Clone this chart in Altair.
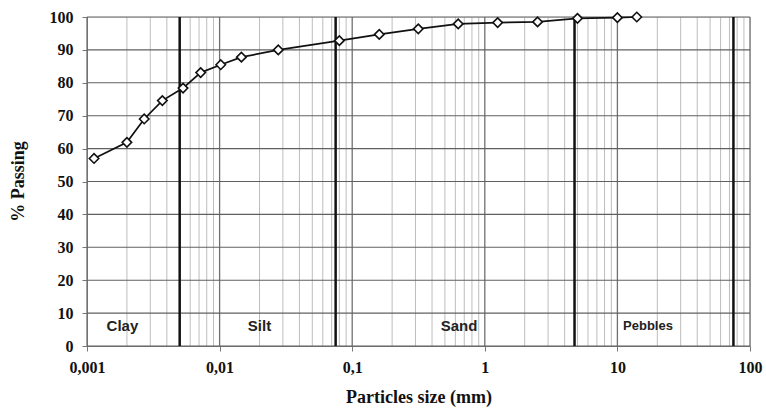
import altair as alt
import pandas as pd

# Measured grain-size curve
size_mm = [0.00113, 0.002, 0.0027, 0.0037, 0.0053, 0.0072, 0.0102, 0.0146, 0.0277,
           0.08, 0.16, 0.315, 0.63, 1.25, 2.5, 5, 10, 14]
passing = [57.0, 61.9, 69.0, 74.6, 78.4, 83.1, 85.5, 87.8, 90.0,
           92.8, 94.7, 96.4, 97.9, 98.3, 98.5, 99.6, 99.8, 100.0]

# Class limits (mm)
limits = [0.005, 0.075, 4.75, 75]

# Class labels
class_names = ["Clay", "Silt", "Sand", "Pebbles"]
class_x = [0.00185, 0.020, 0.64, 17.0]
class_y = [6, 6, 6, 6]
class_size = [15, 15, 15, 13]

# Grid values
decades = [0.001, 0.01, 0.1, 1, 10, 100]
minor = [m * d for d in [0.001, 0.01, 0.1, 1, 10] for m in range(2, 10)]
y_ticks = list(range(0, 101, 10))

curve = pd.DataFrame({"size": size_mm, "passing": passing})
lim_df = pd.DataFrame({"size": limits})
cls_df = pd.DataFrame({"name": class_names, "size": class_x, "y": class_y, "fs": class_size})
major_df = pd.DataFrame({"size": decades})
minor_df = pd.DataFrame({"size": minor})
hgrid_df = pd.DataFrame({"y": y_ticks})

xscale = alt.Scale(type="log", domain=[0.001, 100])
yscale = alt.Scale(domain=[0, 100])

SERIF = "Liberation Serif"
SANS = "Liberation Sans"

xaxis = alt.Axis(
    values=decades,
    labelExpr="replace(toString(datum.value), '.', ',')",
    grid=False, tickSize=5, tickColor="#777", domainColor="#777",
    labelFont=SERIF, labelFontWeight="bold", labelFontSize=16, labelColor="#111",
    labelPadding=8, labelFlush=False, labelOverlap=False,
    title="Particles size (mm)", titleFont=SERIF, titleFontWeight="bold",
    titleFontSize=18, titleColor="#111", titleY=56, titleBaseline="alphabetic",
)
yaxis = alt.Axis(
    values=y_ticks, grid=False, labelOverlap=False,
    tickSize=5, tickColor="#777", domainColor="#777",
    labelFont=SERIF, labelFontWeight="bold", labelFontSize=16, labelColor="#111",
    labelPadding=9,
    title="% Passing", titleFont=SERIF, titleFontWeight="bold", titleFontSize=18,
    titleColor="#111", titleAngle=-90, titleX=-69, titleY=164, titleAlign="center",
    titleBaseline="middle",
)

minor_rules = alt.Chart(minor_df).mark_rule(color="#bdbdbd", strokeWidth=1).encode(
    x=alt.X("size:Q", scale=xscale, axis=xaxis)
)
major_rules = alt.Chart(major_df).mark_rule(color="#707070", strokeWidth=1.3).encode(
    x=alt.X("size:Q", scale=xscale)
)
hgrid = alt.Chart(hgrid_df).mark_rule(color="#606060", strokeWidth=1.1).encode(
    y=alt.Y("y:Q", scale=yscale, axis=yaxis)
)
limit_rules = alt.Chart(lim_df).mark_rule(color="#111", strokeWidth=2.5).encode(
    x=alt.X("size:Q", scale=xscale)
)
line = alt.Chart(curve).mark_line(color="#111", strokeWidth=1.7).encode(
    x=alt.X("size:Q", scale=xscale),
    y=alt.Y("passing:Q", scale=yscale, axis=yaxis),
)
points = alt.Chart(curve).mark_point(
    shape="diamond", filled=True, fill="white", stroke="#111", strokeWidth=1.6, size=90, opacity=1
).encode(
    x=alt.X("size:Q", scale=xscale),
    y=alt.Y("passing:Q", scale=yscale, axis=yaxis),
)
labels = alt.Chart(cls_df).mark_text(
    font=SANS, fontWeight="bold", color="#222", baseline="middle", align="center"
).encode(
    x=alt.X("size:Q", scale=xscale),
    y=alt.Y("y:Q", scale=yscale, axis=yaxis),
    text="name:N",
    size=alt.Size("fs:Q", scale=None, legend=None),
)

chart = alt.layer(minor_rules, major_rules, hgrid, limit_rules, line, points, labels).properties(
    width=663, height=329, autosize="none",
    padding={"left": 87, "top": 17, "right": 16, "bottom": 66},
).configure_view(stroke=None).configure(background="white")

chart.save("out.html", embed_options={"renderer": "svg", "actions": False})
